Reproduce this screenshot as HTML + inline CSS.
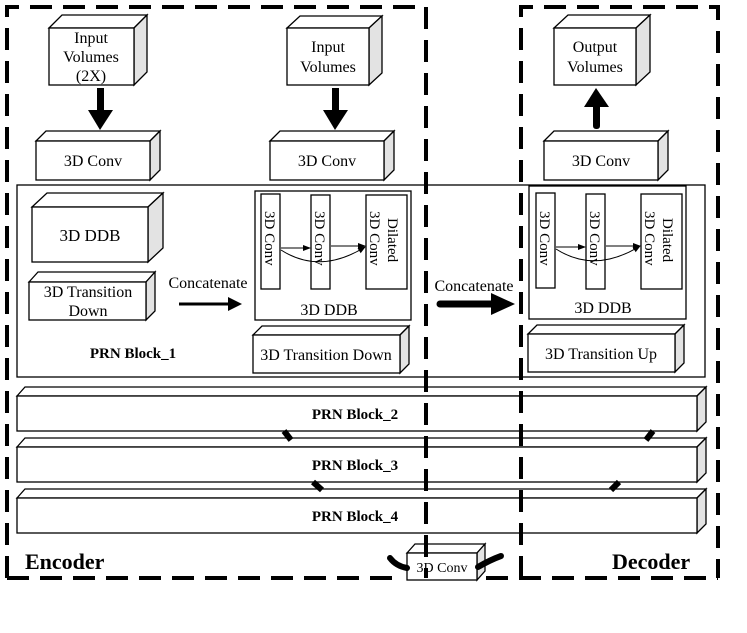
<!DOCTYPE html>
<html><head><meta charset="utf-8"><style>body{margin:0;background:#fff}svg{display:block}text{font-family:"Liberation Serif",serif;fill:#000}</style></head><body>
<svg width="747" height="633" viewBox="0 0 747 633" xmlns="http://www.w3.org/2000/svg">
<defs>
<marker id="ah" markerWidth="8" markerHeight="8" refX="7" refY="4" orient="auto" markerUnits="userSpaceOnUse"><path d="M0,1 L8,4 L0,7 Z" fill="#000"/></marker>
</defs>
<g stroke="#000" stroke-width="1.3" fill="#fff">
<polygon points="49,28 62,15 147,15 134,28"/><polygon points="134,28 147,15 147,72 134,85" fill="#e3e3e3"/><rect x="49" y="28" width="85" height="57"/>
<polygon points="287,28 300,16 382,16 369,28"/><polygon points="369,28 382,16 382,73 369,85" fill="#e3e3e3"/><rect x="287" y="28" width="82" height="57"/>
<polygon points="554,28 568,15 650,15 636,28"/><polygon points="636,28 650,15 650,72 636,85" fill="#e3e3e3"/><rect x="554" y="28" width="82" height="57"/>
<polygon points="36,141 46,131 160,131 150,141"/><polygon points="150,141 160,131 160,170 150,180" fill="#e3e3e3"/><rect x="36" y="141" width="114" height="39"/>
<polygon points="270,141 280,131 394,131 384,141"/><polygon points="384,141 394,131 394,170 384,180" fill="#e3e3e3"/><rect x="270" y="141" width="114" height="39"/>
<polygon points="544,141 554,131 668,131 658,141"/><polygon points="658,141 668,131 668,170 658,180" fill="#e3e3e3"/><rect x="544" y="141" width="114" height="39"/>
<rect x="17" y="185" width="688" height="192" fill="none"/>
<polygon points="32,207 47,193 163,193 148,207"/><polygon points="148,207 163,193 163,248 148,262" fill="#e3e3e3"/><rect x="32" y="207" width="116" height="55"/>
<polygon points="29,282 38,272 155,272 146,282"/><polygon points="146,282 155,272 155,311 146,320" fill="#e3e3e3"/><rect x="29" y="282" width="117" height="38"/>
<rect x="255" y="191" width="156" height="129"/>
<rect x="261" y="194" width="19" height="95"/><rect x="311" y="195" width="19" height="94"/><rect x="366" y="195" width="41" height="94"/>
<polygon points="253,335 262,326 409,326 400,335"/><polygon points="400,335 409,326 409,364 400,373" fill="#e3e3e3"/><rect x="253" y="335" width="147" height="38"/>
<rect x="529" y="186" width="157" height="133"/>
<rect x="536" y="193" width="19" height="95"/><rect x="586" y="194" width="19" height="95"/><rect x="641" y="194" width="41" height="95"/>
<polygon points="528,334 537,325 684,325 675,334"/><polygon points="675,334 684,325 684,363 675,372" fill="#e3e3e3"/><rect x="528" y="334" width="147" height="38"/>
<polygon points="17,396 25,387 706,387 697,396"/><polygon points="697,396 706,387 706,422 697,431" fill="#e3e3e3"/><rect x="17" y="396" width="680" height="35"/>
<polygon points="17,447 25,438 706,438 697,447"/><polygon points="697,447 706,438 706,473 697,482" fill="#e3e3e3"/><rect x="17" y="447" width="680" height="35"/>
<polygon points="17,498 25,489 706,489 697,498"/><polygon points="697,498 706,489 706,524 697,533" fill="#e3e3e3"/><rect x="17" y="498" width="680" height="35"/>
<polygon points="407,553 415,544 485,544 477,553"/><polygon points="477,553 485,544 485,571 477,580" fill="#e3e3e3"/><rect x="407" y="553" width="70" height="27"/>
</g>
<g stroke="#000" stroke-width="1" fill="none">
<line x1="281" y1="248" x2="310" y2="248" marker-end="url(#ah)"/><line x1="331" y1="246" x2="365" y2="246" marker-end="url(#ah)"/>
<path d="M281,250 Q320,275 365,247" marker-end="url(#ah)"/>
<line x1="556" y1="247" x2="585" y2="247" marker-end="url(#ah)"/><line x1="606" y1="246" x2="640" y2="246" marker-end="url(#ah)"/>
<path d="M556,249 Q595,274 640,246" marker-end="url(#ah)"/>
</g>
<g fill="#000">
<rect x="97" y="88" width="7" height="25"/><polygon points="88,110 113,110 100,130"/>
<rect x="332" y="88" width="7" height="25"/><polygon points="323,110 348,110 335,130"/>
<rect x="593" y="104" width="7" height="25" rx="3"/><polygon points="584,107 609,107 596,88"/>
<line x1="179" y1="304" x2="230" y2="304" stroke="#000" stroke-width="3"/><polygon points="228,297 242,304 228,311"/>
<line x1="440" y1="304" x2="495" y2="304" stroke="#000" stroke-width="7" stroke-linecap="round"/><polygon points="491,293 515,304 491,315"/>
</g>
<g stroke="#000" stroke-width="6" fill="none">
<line x1="284" y1="431" x2="291" y2="440"/><line x1="313" y1="482" x2="322" y2="490"/>
<line x1="653" y1="431" x2="646" y2="440"/><line x1="619" y1="482" x2="611" y2="490"/>
<path d="M390,558 Q396,566 407,568" stroke-linecap="round"/><path d="M478,567 Q490,560 501,556" stroke-linecap="round"/>
</g>
<g stroke="#000" stroke-width="4" fill="none" stroke-dasharray="22,11">
<path d="M7,578 L7,7 L426,7 L426,578"/>
<line x1="7" y1="578" x2="400" y2="578"/>
<path d="M521,578 L521,7 L718,7 L718,578"/>
<line x1="486" y1="578" x2="718" y2="578"/>
</g>
<g font-size="16" text-anchor="middle">
<text x="91" y="43">Input</text><text x="91" y="62">Volumes</text><text x="91" y="81">(2X)</text>
<text x="328" y="52">Input</text><text x="328" y="72">Volumes</text>
<text x="595" y="52">Output</text><text x="595" y="72">Volumes</text>
<text x="93" y="166">3D Conv</text><text x="327" y="166">3D Conv</text><text x="601" y="166">3D Conv</text>
<text x="90" y="241" font-size="17">3D DDB</text>
<text x="88" y="297">3D Transition</text><text x="88" y="316">Down</text>
<text x="208" y="288">Concatenate</text>
<text x="474" y="291">Concatenate</text>
<text x="329" y="315">3D DDB</text><text x="603" y="313">3D DDB</text>
<text x="326" y="360">3D Transition Down</text>
<text x="601" y="359">3D Transition Up</text>
<text x="442" y="572" font-size="14">3D Conv</text>
</g>
<g font-size="15" text-anchor="middle" font-weight="bold">
<text x="133" y="358">PRN Block_1</text>
<text x="355" y="419">PRN Block_2</text><text x="355" y="470">PRN Block_3</text><text x="355" y="521">PRN Block_4</text>
</g>
<g font-size="15">
<text transform="translate(265,211) rotate(90)">3D Conv</text>
<text transform="translate(315,211) rotate(90)">3D Conv</text>
<text transform="translate(370,211) rotate(90)">3D Conv</text>
<text transform="translate(388,218) rotate(90)">Dilated</text>
<text transform="translate(540,211) rotate(90)">3D Conv</text>
<text transform="translate(590,211) rotate(90)">3D Conv</text>
<text transform="translate(645,211) rotate(90)">3D Conv</text>
<text transform="translate(663,218) rotate(90)">Dilated</text>
</g>
<g font-size="22" font-weight="bold">
<text x="25" y="569">Encoder</text><text x="612" y="569">Decoder</text>
</g>
</svg>
</body></html>
